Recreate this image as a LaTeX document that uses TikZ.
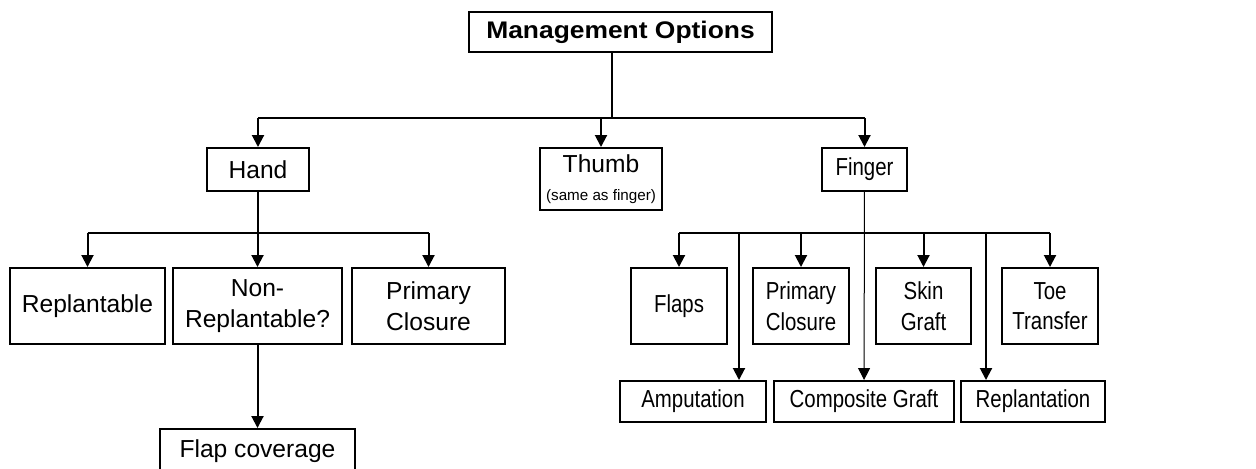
\documentclass[tikz,border=0pt]{standalone}
\usepackage{fontspec}
\setmainfont{Liberation Sans}
\newfontfamily\narrowfont[FakeStretch=0.83]{Liberation Sans}
\newfontfamily\widefont[FakeStretch=1.1]{Liberation Sans}
\usetikzlibrary{
  arrows.meta,
  positioning,
}
\tikzset{
  box/.style={
    rectangle,
    draw=black,
    line width=1pt,
    text centered,
    align=center,
    inner sep=1pt,
    font=\fontsize{12.3}{15.3}\selectfont
  },
  finbox/.style={
    box,
    font=\narrowfont\fontsize{12.3}{15.3}\selectfont
  },
  head/.style={
    box,
    font=\widefont\bfseries\fontsize{12}{14}\selectfont
  },
  line/.style={
    line width=1pt,
  },
  arrow/.style={
    line width=1pt,
    -{Triangle[length=6pt,width=6pt]},
  },
}

\begin{document}
\begin{tikzpicture}[x=0.5pt, y=-0.5pt]
  \useasboundingbox (0,0) rectangle (1256,468);

  % Top level
  \node (mgmt) [head, minimum width=151.5pt, minimum height=20pt] at (620.5,32) {Management Options};

  % Hand, thumb, finger
  \node (hand) [box, minimum width=51pt, minimum height=21.5pt] at (258,169.5) {Hand};
  \node (thumb) [box, minimum width=61pt, minimum height=31pt] at (601,179) {Thumb\\[-1pt]{\fontsize{7.6}{9}\selectfont (same as finger)}};
  \node (finger) [finbox, minimum width=42.5pt, minimum height=21.5pt] at (864.5,169.5) {Finger};

  % Hand options
  \node (replant) [box, minimum width=77.5pt, minimum height=38pt] at (87.5,306) {Replantable};
  \node (nonrep) [box, minimum width=84.5pt, minimum height=38pt] at (257.5,306) {Non-\\Replantable?};
  \node (primh) [box, minimum width=76.5pt, minimum height=38pt] at (428.5,306) {Primary\\Closure};
  \node (flapcov) [box, minimum width=97.5pt, minimum height=22pt] at (257.5,451) {Flap coverage};

  % Finger options
  \node (flaps) [finbox, minimum width=48pt, minimum height=38pt] at (679,306) {Flaps};
  \node (primf) [finbox, minimum width=48pt, minimum height=38pt] at (801,306) {Primary\\Closure};
  \node (skin) [finbox, minimum width=47.5pt, minimum height=38pt] at (923.5,306) {Skin\\Graft};
  \node (toe) [finbox, minimum width=48pt, minimum height=38pt] at (1050,306) {Toe\\Transfer};
  \node (amput) [finbox, minimum width=73pt, minimum height=20.5pt] at (693,401.5) {Amputation};
  \node (comp) [finbox, minimum width=90pt, minimum height=20.5pt] at (864,401.5) {Composite Graft};
  \node (replan) [finbox, minimum width=72pt, minimum height=20.5pt] at (1033,401.5) {Replantation};

  % Branch points
  \coordinate (top) at (612,118);
  \coordinate (hsplit) at (258,233);
  \coordinate (fsplit) at (864,233);
  \coordinate (ampin) at (739,233);
  \coordinate (repin) at (986,233);

  % Arrows, top
  \draw [line] (mgmt.south -| top) -- (top);
  \draw [line] (top -| hand) -- (top -| finger);
  \foreach \n in {hand, thumb, finger}
    \draw [arrow] (top -| \n) -- (\n);

  % Arrows, hand
  \draw [line] (hand) -- (hsplit);
  \draw [line] (hsplit -| replant) -- (hsplit -| primh);
  \foreach \n in {replant, nonrep, primh}
    \draw [arrow] (hsplit -| \n) -- (\n);
  \draw [arrow] (nonrep) -- (flapcov);

  % Arrows, finger
  \draw [arrow, line width=0.5pt] (finger) -- (comp);
  \draw [line] (fsplit -| flaps) -- (fsplit -| toe);
  \foreach \n in {flaps, primf, skin, toe}
    \draw [arrow] (fsplit -| \n) -- (\n);
  \draw [arrow] (ampin) -- (ampin |- amput.north);
  \draw [arrow] (repin) -- (repin |- replan.north);

\end{tikzpicture}
\end{document}
